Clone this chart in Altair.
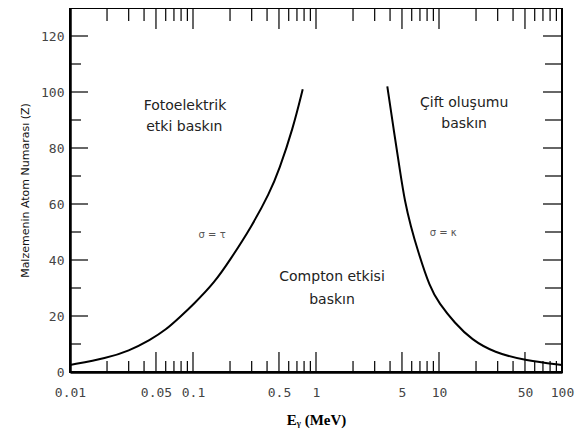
import altair as alt
import pandas as pd

W, H = 492, 364

# curve sigma = tau (photoelectric = Compton)
left_E = [0.01, 0.02, 0.03, 0.045, 0.06, 0.08, 0.1, 0.15, 0.2, 0.3, 0.42, 0.5, 0.65, 0.78]
left_Z = [2.5, 5, 7.5, 11.5, 15, 20, 24, 32, 40, 52, 64, 72, 87, 101]
# curve sigma = kappa (Compton = pair production)
right_E = [3.8, 4.3, 4.85, 5.27, 5.9, 6.7, 8.45, 10, 13.4, 18.5, 28, 51, 100]
right_Z = [102, 86, 71, 61, 52, 43.5, 30, 24.6, 17.5, 11.5, 7, 4, 2.5]

x_label_values = [0.01, 0.05, 0.1, 0.5, 1, 5, 10, 50, 100]
y_label_values = [0, 20, 40, 60, 80, 100, 120]

x_major_ticks = [0.05, 0.1, 0.5, 1, 5, 10, 50]
x_minor_ticks = [m * d for d in [0.01, 0.1, 1, 10] for m in [2, 3, 4, 6, 7, 8, 9]]
y_major_ticks = [20, 40, 60, 80, 100, 120]
y_minor_ticks = [10, 30, 50, 70, 90, 110]

ann_text = ["Fotoelektrik", "etki baskın", "Çift oluşumu", "baskın",
            "Compton etkisi", "baskın"]
ann_E = [0.086, 0.085, 16, 16, 1.35, 1.35]
ann_Z = [95, 87.5, 96, 88.5, 34, 25.7]

sig_text = ["σ = τ", "σ = κ"]
sig_E = [0.143, 10.8]
sig_Z = [49, 49.5]

curves = pd.DataFrame({
    "E": left_E + right_E,
    "Z": left_Z + right_Z,
    "curve": ["tau"] * len(left_E) + ["kappa"] * len(right_E),
})
ann = pd.DataFrame({"E": ann_E, "Z": ann_Z, "label": ann_text})
sig = pd.DataFrame({"E": sig_E, "Z": sig_Z, "label": sig_text})
xmaj = pd.DataFrame({"E": x_major_ticks})
xmin = pd.DataFrame({"E": x_minor_ticks})
ymaj = pd.DataFrame({"Z": y_major_ticks})
ymin = pd.DataFrame({"Z": y_minor_ticks})

x_scale = alt.Scale(type="log", domain=[0.01, 100])
y_scale = alt.Scale(domain=[0, 130])

x_axis = alt.Axis(values=x_label_values, format="~g", ticks=False, tickSize=0,
                  grid=False, title="Eᵧ (MeV)", labelPadding=14, titlePadding=13,
                  labelFont="DejaVu Sans Mono", labelFontSize=13, labelColor="#444",
                  titleFont="Liberation Serif", titleFontSize=15, titleFontWeight="bold",
                  titleColor="#000", domainColor="#000", domainWidth=2.5,
                  labelFlush=False)
y_axis = alt.Axis(values=y_label_values, ticks=False, tickSize=0, grid=False,
                  title="Malzemenin Atom Numarası (Z)", labelPadding=6, titlePadding=10,
                  labelFont="DejaVu Sans Mono", labelFontSize=13, labelColor="#444",
                  titleFont="DejaVu Sans", titleFontSize=11, titleFontWeight="normal",
                  titleColor="#111", domainColor="#000", domainWidth=2.5)

X = alt.X("E:Q", scale=x_scale, axis=x_axis)
Y = alt.Y("Z:Q", scale=y_scale, axis=y_axis)

lines = alt.Chart(curves).mark_line(color="black", strokeWidth=2, interpolate="basis").encode(
    x=X, y=Y, detail="curve:N")

rule = dict(color="black", strokeWidth=1.2)
xb_major = alt.Chart(xmaj).mark_rule(**rule).encode(x=X, y=alt.value(H), y2=alt.value(H - 20))
xb_minor = alt.Chart(xmin).mark_rule(**rule).encode(x=X, y=alt.value(H), y2=alt.value(H - 11))
xt_major = alt.Chart(xmaj).mark_rule(**rule).encode(x=X, y=alt.value(0), y2=alt.value(21))
xt_minor = alt.Chart(xmin).mark_rule(**rule).encode(x=X, y=alt.value(0), y2=alt.value(13))
yl_major = alt.Chart(ymaj).mark_rule(**rule).encode(y=Y, x=alt.value(0), x2=alt.value(18))
yl_minor = alt.Chart(ymin).mark_rule(**rule).encode(y=Y, x=alt.value(0), x2=alt.value(11))
yr_major = alt.Chart(ymaj).mark_rule(**rule).encode(y=Y, x=alt.value(W - 19), x2=alt.value(W))
yr_minor = alt.Chart(ymin).mark_rule(**rule).encode(y=Y, x=alt.value(W - 17), x2=alt.value(W))

ann_layer = alt.Chart(ann).mark_text(font="DejaVu Sans", fontSize=14, color="#222",
                                     baseline="middle", align="center").encode(
    x=X, y=Y, text="label:N")
sig_layer = alt.Chart(sig).mark_text(font="DejaVu Sans", fontSize=10, color="#555",
                                     baseline="middle", align="center").encode(
    x=X, y=Y, text="label:N")

chart = alt.layer(
    xb_major, xb_minor, xt_major, xt_minor,
    yl_major, yl_minor, yr_major, yr_minor,
    lines, ann_layer, sig_layer,
).properties(
    width=W, height=H,
    padding={"left": 62, "top": 0, "right": 14, "bottom": 60},
    autosize=alt.AutoSizeParams(type="none"),
    background="white",
).configure_view(stroke="black", strokeWidth=2)

chart.save("out.html", embed_options={"renderer": "svg", "actions": False})
